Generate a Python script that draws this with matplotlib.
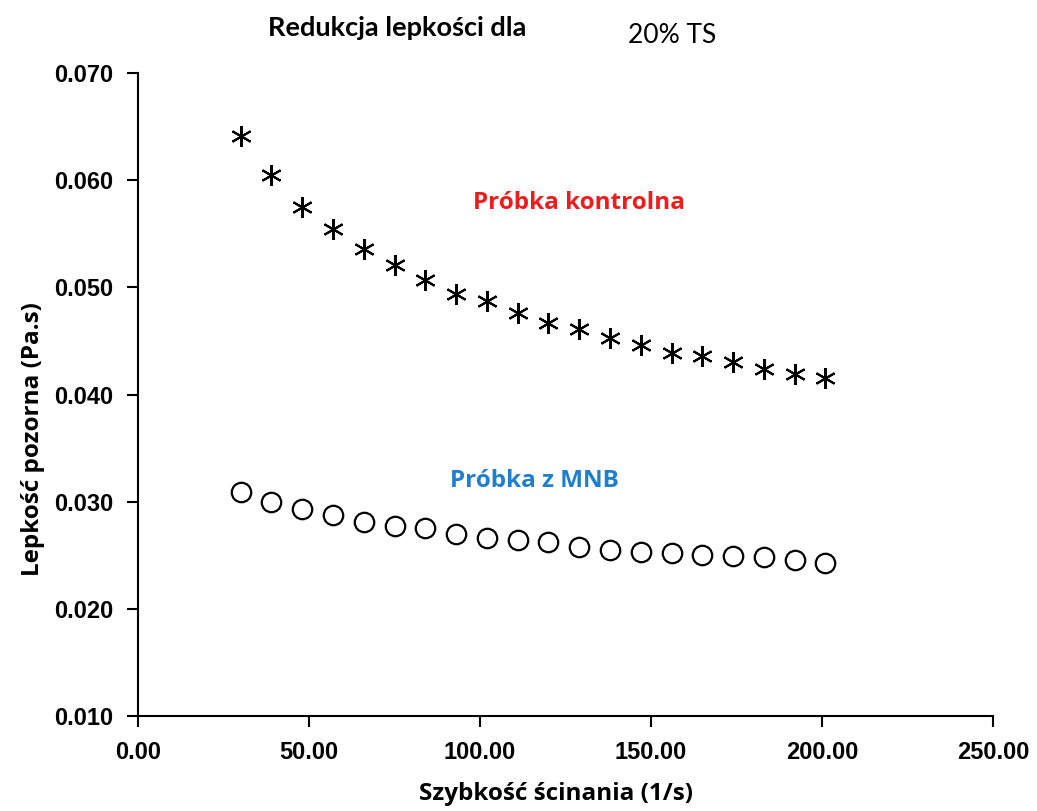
import matplotlib
matplotlib.use("Agg")
import matplotlib.pyplot as plt

# dane
shear_rate = [30, 39, 48, 57, 66, 75, 84, 93, 102, 111,
              120, 129, 138, 147, 156, 165, 174, 183, 192, 201]
visc_control = [0.0641, 0.0605, 0.0575, 0.0554, 0.0536, 0.0521, 0.0507, 0.0494, 0.0487, 0.0476,
                0.0467, 0.0461, 0.0453, 0.0446, 0.0439, 0.0436, 0.0430, 0.0424, 0.0419, 0.0415]
visc_mnb = [0.0309, 0.0300, 0.0293, 0.0288, 0.0281, 0.0277, 0.0275, 0.0270, 0.0266, 0.0264,
            0.0262, 0.0258, 0.0255, 0.0253, 0.0252, 0.0250, 0.0249, 0.0248, 0.0246, 0.0243]
x_ticks = [0, 50, 100, 150, 200, 250]
y_ticks = [0.010, 0.020, 0.030, 0.040, 0.050, 0.060, 0.070]

fig = plt.figure(figsize=(10.37, 8.11), dpi=100)
ax = fig.add_axes([0.1331, 0.1171, 0.8245, 0.7929])

ax.plot(shear_rate, visc_control, linestyle='none', marker=(6, 2, 0),
        markersize=15, markeredgewidth=1.5, color='black')
ax.plot(shear_rate, visc_mnb, linestyle='none', marker='o', markersize=14,
        markerfacecolor='white', markeredgecolor='black', markeredgewidth=1.6)

ax.set_xlim(0, 250)
ax.set_ylim(0.010, 0.070)
ax.set_xticks(x_ticks)
ax.set_yticks(y_ticks)
ax.set_xticklabels([f"{v:.2f}" for v in x_ticks])
ax.set_yticklabels([f"{v:.3f}" for v in y_ticks])
for lab in ax.get_xticklabels() + ax.get_yticklabels():
    lab.set_fontfamily('Liberation Sans')
    lab.set_fontweight('bold')
    lab.set_fontsize(17)

ax.spines['top'].set_visible(False)
ax.spines['right'].set_visible(False)
for s in ('left', 'bottom'):
    ax.spines[s].set_linewidth(1.5)
ax.tick_params(direction='out', length=8, width=1.5, pad=10)

ax.set_xlabel('Szybkość ścinania (1/s)', fontfamily='Open Sans', fontweight='bold',
              fontsize=17.5)
ax.set_ylabel('Lepkość pozorna (Pa.s)', fontfamily='Open Sans', fontweight='bold',
              fontsize=17.5)
# polozenie podpisow osi jak w oryginale (lekko przesuniete)
ax.xaxis.set_label_coords(0.489, -0.103)
ax.yaxis.set_label_coords(-0.109, 0.431)

ax.text(129, 0.0579, 'Próbka kontrolna', color='#ee1c1c', fontfamily='Open Sans',
        fontweight='bold', fontsize=17.5, ha='center', va='center')
ax.text(116, 0.0319, 'Próbka z MNB', color='#1f7fcf', fontfamily='Open Sans',
        fontweight='bold', fontsize=17.5, ha='center', va='center')

fig.text(0.383, 0.966, 'Redukcja lepkości dla', fontfamily='Lato',
         fontweight='bold', fontsize=19.5, ha='center', va='center')
fig.text(0.648, 0.956, '20% TS', fontfamily='Lato',
         fontsize=19, ha='center', va='center')

fig.savefig('out.png', dpi=100)
